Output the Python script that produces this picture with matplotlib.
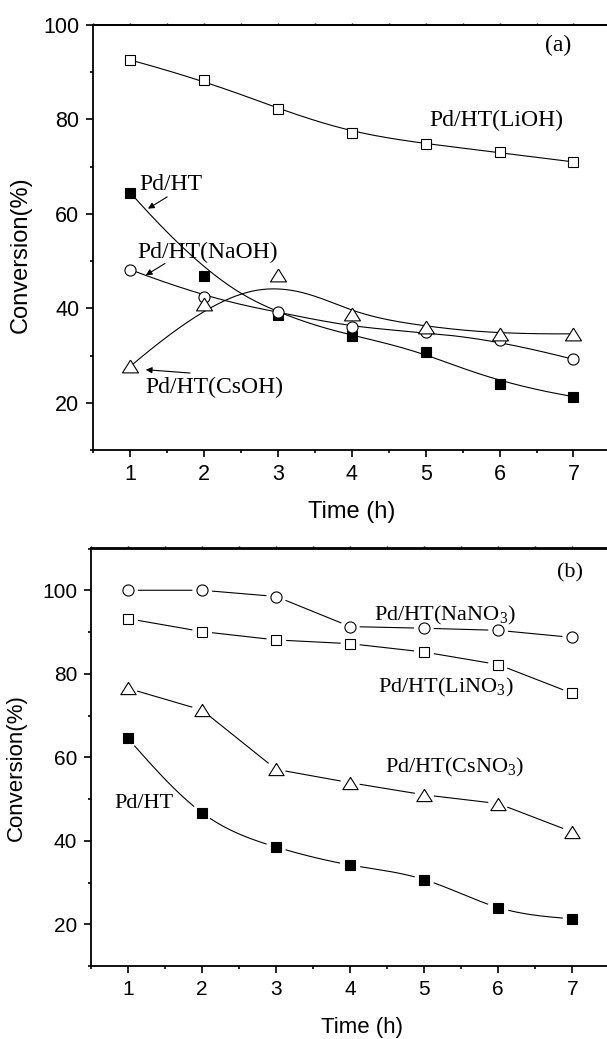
import numpy as np
import matplotlib
matplotlib.use("Agg")
import matplotlib.pyplot as plt
from matplotlib.ticker import MultipleLocator

plt.rcParams['font.family'] = ['Liberation Sans', 'DejaVu Sans']
plt.rcParams['mathtext.fontset'] = 'custom'
plt.rcParams['mathtext.rm'] = 'Liberation Serif'

hours = [1, 2, 3, 4, 5, 6, 7]

# (a) hydroxide-modified catalysts
a_lioh = [92.6, 88.3, 82.2, 77.2, 74.8, 73.0, 71.0]
a_pdht = [64.5, 46.9, 38.5, 34.2, 30.8, 24.0, 21.3]
a_naoh = [48.2, 42.3, 39.2, 36.0, 34.9, 33.2, 29.2]
a_csoh = [27.7, 41.0, 47.0, 38.7, 36.1, 34.5, 34.6]

# (b) nitrate-modified catalysts
b_nano3 = [100.0, 100.0, 98.5, 91.3, 90.9, 90.4, 88.7]
b_lino3 = [93.2, 90.1, 88.1, 87.2, 85.2, 82.2, 75.3]
b_csno3 = [76.5, 71.3, 57.1, 53.9, 51.0, 48.9, 42.1]
b_pdht = [64.5, 46.7, 38.5, 34.2, 30.7, 24.0, 21.3]

W, H = 607, 1039
# open triangle, a bit wider than tall
tri = [(0, 0.8), (-1, -0.8), (1, -0.8), (0, 0.8)]


def bspline(xs, ys, n=400, k=3):
    P = np.column_stack([xs, ys]).astype(float)
    m = len(P)
    kv = np.concatenate([np.zeros(k), np.linspace(0, 1, m - k + 1), np.ones(k)])
    t = np.linspace(0, 1, n)
    N = np.zeros((n, len(kv) - 1))
    for i in range(len(kv) - 1):
        N[:, i] = (kv[i] <= t) & (t < kv[i + 1])
    N[-1, m - 1] = 1
    for p in range(1, k + 1):
        Nn = np.zeros((n, len(kv) - 1 - p))
        for i in range(len(kv) - 1 - p):
            d1 = kv[i + p] - kv[i]
            d2 = kv[i + p + 1] - kv[i + 1]
            a = (t - kv[i]) / d1 * N[:, i] if d1 > 0 else 0
            b = (kv[i + p + 1] - t) / d2 * N[:, i + 1] if d2 > 0 else 0
            Nn[:, i] = a + b
        N = Nn
    C = N @ P
    return C[:, 0], C[:, 1]


def natural_spline(xs, ys, n=400):
    x = np.asarray(xs, float)
    y = np.asarray(ys, float)
    m = len(x)
    h = np.diff(x)
    A = np.zeros((m, m))
    r = np.zeros(m)
    A[0, 0] = A[-1, -1] = 1
    for i in range(1, m - 1):
        A[i, i - 1] = h[i - 1]
        A[i, i] = 2 * (h[i - 1] + h[i])
        A[i, i + 1] = h[i]
        r[i] = 3 * ((y[i + 1] - y[i]) / h[i] - (y[i] - y[i - 1]) / h[i - 1])
    c = np.linalg.solve(A, r)
    b = (y[1:] - y[:-1]) / h - h * (2 * c[:-1] + c[1:]) / 3
    d = (c[1:] - c[:-1]) / (3 * h)
    xx = np.linspace(x[0], x[-1], n)
    idx = np.clip(np.searchsorted(x, xx) - 1, 0, m - 2)
    dx = xx - x[idx]
    return xx, y[idx] + b[idx] * dx + c[idx] * dx ** 2 + d[idx] * dx ** 3


def with_gaps(ax, xx, yy, xs, ys, r=10):
    # blank the curve near each symbol (pixel radius r)
    pts = ax.transData.transform(np.column_stack([xx, yy]))
    ctr = ax.transData.transform(np.column_stack([xs, ys]))
    d = np.hypot(pts[:, None, 0] - ctr[None, :, 0], pts[:, None, 1] - ctr[None, :, 1]).min(axis=1)
    return np.where(d < r, np.nan, yy)


def style_axes(ax, ylim, ysize):
    ax.set_xlim(0.5, 7.5)
    ax.set_ylim(*ylim)
    ax.spines['right'].set_visible(False)
    for s in ['left', 'bottom', 'top']:
        ax.spines[s].set_linewidth(1.3)
    ax.xaxis.set_major_locator(MultipleLocator(1))
    ax.xaxis.set_minor_locator(MultipleLocator(0.5))
    ax.yaxis.set_major_locator(MultipleLocator(20))
    ax.yaxis.set_minor_locator(MultipleLocator(10))
    ax.tick_params(which='major', direction='out', length=5, width=1.2, labelsize=ysize, pad=5)
    ax.tick_params(which='minor', direction='out', length=2.5, width=1.2)
    top = ax.secondary_xaxis('top')
    top.xaxis.set_major_locator(MultipleLocator(0.5))
    top.tick_params(direction='out', length=1.5, width=1, labeltop=False)
    top.spines['top'].set_linewidth(1.3)


def arrow(ax, start, tip):
    ax.annotate('', xy=tip, xytext=start,
                arrowprops=dict(arrowstyle='-|>', color='k', lw=0.8,
                                mutation_scale=9, shrinkA=0, shrinkB=0))


fig = plt.figure(figsize=(W / 100, H / 100), dpi=100)
serif = ['Liberation Serif', 'DejaVu Serif']

# ---- panel (a) ----
ax1 = fig.add_axes([93.3 / W, 1 - 450 / H, 517.1 / W, 425 / H])
style_axes(ax1, (10, 100), 15.5)

lw = 0.8
ax1.plot(*bspline(hours, a_pdht), color='k', lw=lw, zorder=2)
ax1.plot(*bspline(hours, a_lioh), color='k', lw=lw, zorder=2)
ax1.plot(*bspline(hours, a_naoh), color='k', lw=lw, zorder=2)
ax1.plot(*bspline(hours, a_csoh), color='k', lw=lw, zorder=2)
ax1.plot(hours, a_pdht, ls='none', marker='s', ms=7.5, mfc='k', mec='k', mew=0.8, zorder=3)
ax1.plot(hours, a_lioh, ls='none', marker='s', ms=7.5, mfc='white', mec='k', mew=0.8, zorder=3)
ax1.plot(hours, a_naoh, ls='none', marker='o', ms=8, mfc='white', mec='k', mew=0.8, zorder=4)
ax1.plot(hours, a_csoh, ls='none', marker=tri, ms=11.5, mfc='white', mec='k', mew=0.8, zorder=5)

ax1.text(5.05, 79.7, 'Pd/HT(LiOH)', family=serif, fontsize=17, ha='left', va='center')
ax1.text(6.61, 95.6, '(a)', family=serif, fontsize=17, ha='left', va='center')
ax1.text(1.13, 66.2, 'Pd/HT', family=serif, fontsize=17, ha='left', va='center')
ax1.text(1.10, 51.9, 'Pd/HT(NaOH)', family=serif, fontsize=17, ha='left', va='center')
ax1.text(1.21, 23.2, 'Pd/HT(CsOH)', family=serif, fontsize=17, ha='left', va='center')
arrow(ax1, (1.50, 63.6), (1.24, 61.1))
arrow(ax1, (1.47, 49.5), (1.21, 47.0))
arrow(ax1, (1.81, 26.3), (1.21, 27.0))

fig.text(21 / W, 1 - 255 / H, 'Conversion(%)', fontsize=17, rotation=90, ha='center', va='center')
fig.text(352 / W, 1 - 512 / H, 'Time (h)', fontsize=17, ha='center', va='center')

# ---- panel (b) ----
ax2 = fig.add_axes([91 / W, 1 - 966 / H, 518.3 / W, 417.5 / H])
style_axes(ax2, (10, 110), 15)

xx, yy = natural_spline(hours, b_pdht)
ax2.plot(xx, with_gaps(ax2, xx, yy, hours, b_pdht), color='k', lw=lw, zorder=2)
for ys in (b_nano3, b_lino3, b_csno3):
    xx = np.linspace(hours[0], hours[-1], 600)
    yy = np.interp(xx, hours, ys)
    ax2.plot(xx, with_gaps(ax2, xx, yy, hours, ys), color='k', lw=lw, zorder=2)
ax2.plot(hours, b_pdht, ls='none', marker='s', ms=7.3, mfc='k', mec='k', mew=0.8, zorder=3)
ax2.plot(hours, b_lino3, ls='none', marker='s', ms=7, mfc='white', mec='k', mew=0.8, zorder=3)
ax2.plot(hours, b_nano3, ls='none', marker='o', ms=8, mfc='white', mec='k', mew=0.8, zorder=3)
ax2.plot(hours, b_csno3, ls='none', marker=tri, ms=11, mfc='white', mec='k', mew=0.8, zorder=3)

ax2.text(6.80, 104.1, '(b)', family=serif, fontsize=16, ha='left', va='center')
ax2.text(4.32, 92.85, 'Pd/HT(NaNO$_3$)', family=serif, fontsize=16, ha='left', va='baseline', zorder=6)
ax2.text(4.37, 75.45, 'Pd/HT(LiNO$_3$)', family=serif, fontsize=16, ha='left', va='baseline')
ax2.text(4.47, 56.45, 'Pd/HT(CsNO$_3$)', family=serif, fontsize=16, ha='left', va='baseline')
ax2.text(0.82, 49.0, 'Pd/HT', family=serif, fontsize=16, ha='left', va='center')

fig.text(16 / W, 1 - 768 / H, 'Conversion(%)', fontsize=16, rotation=90, ha='center', va='center')
fig.text(362 / W, 1 - 1027 / H, 'Time (h)', fontsize=16, ha='center', va='center')

fig.savefig('out.png', dpi=100)
